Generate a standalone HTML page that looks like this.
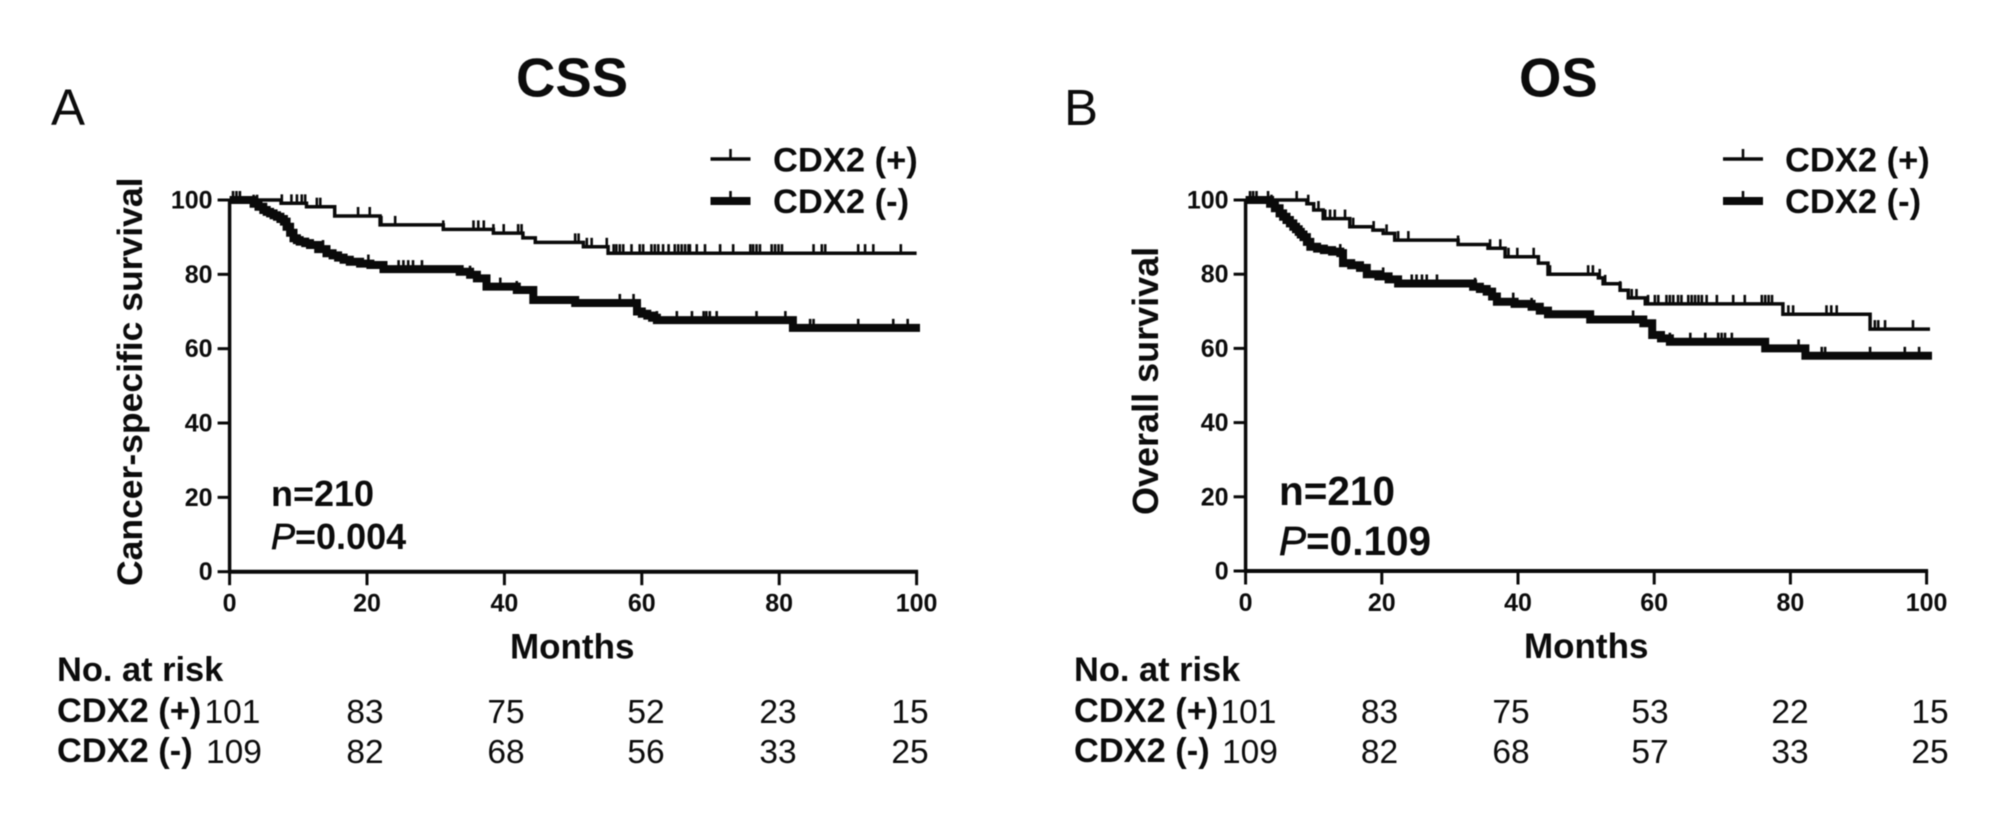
<!DOCTYPE html>
<html lang="en">
<head>
<meta charset="utf-8">
<title>CDX2 Kaplan-Meier survival curves</title>
<style>
html,body{margin:0;padding:0;background:#fff;}
svg{display:block;filter:blur(0.5px);}
text{font-family:"Liberation Sans",Arial,sans-serif;fill:#0c0c0c;}
.b{font-weight:700;}
</style>
</head>
<body>
<svg id="figure" width="2008" height="827" viewBox="0 0 2008 827" xmlns="http://www.w3.org/2000/svg">
  <rect width="2008" height="827" fill="#fff"/>
  <text x="51" y="125" font-size="51">A</text>
  <text x="1064" y="125" font-size="51">B</text>
  <text class="b" x="516" y="96.5" font-size="54.5">CSS</text>
  <text class="b" x="1519" y="96.5" font-size="54.5">OS</text>
</svg>
<script>
// Axis ticks
const xTickLabels = [0, 20, 40, 60, 80, 100];
const yTickLabels = [0, 20, 40, 60, 80, 100];

// Panel A (CSS): CDX2 (+)
const cssPosTimes = [7.5, 11.2, 15.3, 21.9, 31.1, 38.4, 42.7, 44.5, 51.5, 55.1];
const cssPosSurvival = [99.1, 98.2, 95.7, 93.3, 92.1, 91.1, 89.8, 88.6, 87.4, 85.7];
const cssPosCensored = [7.6, 9, 9.8, 10.5, 11, 12.7, 13.2, 18.7, 20.4, 22.1, 24.1, 31.1, 35.5, 36.2, 37, 38.4, 39.9, 42, 42.5, 50.3, 50.8, 52, 52.7, 54.9, 55.9, 56.3, 56.8, 57.3, 58.5, 59.7, 60.2, 61.4, 61.9, 62.4, 63.1, 63.9, 64.8, 65.3, 65.8, 66.3, 66.8, 67, 68, 69.2, 71.4, 73.3, 75.8, 76.2, 76.7, 77.2, 78.9, 79.4, 79.9, 80.4, 85, 86.2, 86.7, 91.5, 92.5, 93.7, 97.7];

// Panel A (CSS): CDX2 (-)
const cssNegTimes = [3.5, 4.2, 4.9, 5.4, 5.9, 6.4, 6.9, 7.4, 7.9, 8.3, 8.8, 9.3, 9.8, 10.2, 11, 11.7, 12.9, 14.1, 15, 15.8, 16.6, 17.5, 19, 20.5, 22.4, 33.5, 35, 36, 37.4, 41.8, 44.2, 50.3, 59.3, 60, 60.8, 61.5, 62.2, 82];
const cssNegSurvival = [99, 98.2, 97.3, 96.8, 96.4, 95.9, 95.5, 94.9, 94.2, 92.8, 91.2, 89.7, 89.2, 88.8, 88.4, 87.9, 86.8, 85.7, 85.1, 84.5, 83.9, 83.4, 82.9, 82.5, 81.4, 80.7, 79.9, 78.9, 76.7, 75.8, 73.1, 72.3, 70, 69.4, 68.9, 68.3, 67.7, 65.6];
const cssNegCensored = [0.5, 1, 1.5, 3.5, 4, 13.6, 20.2, 24.6, 25.3, 26, 26.7, 28, 35, 39.4, 41.8, 56.8, 58.8, 59.3, 59.7, 62.2, 65.1, 67.3, 69, 69.4, 69.9, 70.9, 76.7, 80.9, 84.5, 85, 91.5, 96.6, 98.7];

// Panel B (OS): CDX2 (+)
const osPosTimes = [7.5, 9, 10, 11.4, 15.3, 18.7, 20.2, 21.9, 31.2, 35.6, 38.1, 43, 44.4, 51.8, 52.5, 55, 56.2, 58.7, 78.9, 91.7];
const osPosSurvival = [100, 99, 97.3, 95, 92.8, 91.9, 91, 89.2, 88, 87, 84.7, 83, 80, 79, 77.4, 75.7, 73.6, 72, 69.2, 65.2];
const osPosCensored = [7.5, 9.2, 10.7, 11.7, 12.4, 13.1, 14.6, 15.8, 18.8, 20.7, 22.4, 23.9, 31.2, 35.9, 37.4, 38.6, 39.9, 42.3, 44.7, 50.3, 51, 52, 52.8, 55, 56.7, 57.4, 59.1, 60.1, 60.6, 61.8, 62.3, 62.8, 63.5, 64, 65, 65.5, 66, 66.5, 67, 67.7, 69.2, 71.6, 73.3, 75.8, 76.3, 76.8, 77.3, 79.7, 80.4, 85.3, 86, 86.8, 92.4, 92.9, 93.9, 98];

// Panel B (OS): CDX2 (-)
const osNegTimes = [3.6, 4.3, 5, 5.5, 6, 6.5, 7, 7.4, 7.8, 8.1, 8.5, 9, 9.5, 10.5, 11.5, 12.7, 13.9, 14.3, 15.5, 16.8, 17.8, 19.5, 21, 22.4, 33.4, 34.4, 35.4, 36.2, 36.9, 39.5, 42, 43.2, 44.4, 50.6, 58.4, 59.7, 61, 62.3, 76.3, 82.2];
const osNegSurvival = [99, 97.8, 96.4, 95.5, 94.6, 93.7, 92.8, 92.1, 91.4, 90.7, 90, 88.7, 87.4, 86.9, 86.5, 86.1, 85.7, 83, 82.4, 81.7, 80, 79.4, 78.6, 77.5, 76.6, 76, 75.3, 74, 72.6, 72, 71.2, 70.2, 69.2, 67.8, 66.8, 63.6, 62.7, 61.8, 60, 58];
const osNegCensored = [0.65, 1.1, 1.6, 3.3, 3.8, 13.9, 20.2, 24.4, 25.1, 25.9, 26.6, 28.1, 33.7, 39.3, 42, 56.9, 62.3, 65.3, 67.5, 69.4, 69.9, 70.4, 71.4, 81.2, 84.6, 85.1, 91.7, 96.8, 98.9];

// Numbers at risk
const cssRiskPos = [101, 83, 75, 52, 23, 15];
const cssRiskNeg = [109, 82, 68, 56, 33, 25];
const osRiskPos = [101, 83, 75, 53, 22, 15];
const osRiskNeg = [109, 82, 68, 57, 33, 25];

const SVG_NS = 'http://www.w3.org/2000/svg';
const root = document.getElementById('figure');

function mk(tag, attrs, parent) {
  const el = document.createElementNS(SVG_NS, tag);
  for (const k in attrs) el.setAttribute(k, attrs[k]);
  (parent || root).appendChild(el);
  return el;
}

function survivalAt(times, values, m) {
  let s = 100;
  for (let i = 0; i < times.length; i++) {
    if (times[i] <= m) s = values[i];
  }
  return s;
}

function stepPath(times, values, xs, ys, endMonth) {
  let d = 'M' + xs(0) + ' ' + ys(100);
  for (let i = 0; i < times.length; i++) {
    d += 'H' + xs(times[i]).toFixed(1);
    d += 'V' + ys(values[i]).toFixed(1);
  }
  d += 'H' + xs(endMonth).toFixed(1);
  return d;
}

function drawSeries(panel, key, times, values, censored, xs, ys, width, endMonth) {
  const g = mk('g', {}, panel);
  
  

  const line = mk('path', {
    d: stepPath(times, values, xs, ys, endMonth),
    fill: 'none', stroke: '#0a0a0a', 'stroke-width': width, 'stroke-linejoin': 'miter'
  }, g);
  
  

  censored.forEach(function (m) {
    const y = ys(survivalAt(times, values, m));
    const tick = mk('line', {
      x1: xs(m), x2: xs(m), y1: y, y2: y - 9,
      stroke: '#0a0a0a', 'stroke-width': 2.6
    }, g);
    
    
  });
}

function drawAxes(panel, key, xs, ys, fontSize) {
  const xAxis = mk('line', {
    x1: xs(0) - 1.5, x2: xs(100) + 1.5, y1: ys(0), y2: ys(0),
    stroke: '#0a0a0a', 'stroke-width': 4
  }, panel);
  
  

  const yAxis = mk('line', {
    x1: xs(0), x2: xs(0), y1: ys(0), y2: ys(100) - 1,
    stroke: '#0a0a0a', 'stroke-width': 3.5
  }, panel);
  
  

  xTickLabels.forEach(function (v) {
    const t = mk('line', {
      x1: xs(v), x2: xs(v), y1: ys(0), y2: ys(0) + 13.5,
      stroke: '#0a0a0a', 'stroke-width': 3
    }, panel);
    
    

    const l = mk('text', {
      x: xs(v), y: ys(0) + 40, 'font-size': fontSize, 'text-anchor': 'middle', class: 'b'
    }, panel);
    l.textContent = v;
    
    
  });

  yTickLabels.forEach(function (v) {
    const t = mk('line', {
      x1: xs(0) - 12, x2: xs(0), y1: ys(v), y2: ys(v),
      stroke: '#0a0a0a', 'stroke-width': 3
    }, panel);
    
    

    const l = mk('text', {
      x: xs(0) - 17, y: ys(v) + 8.5, 'font-size': fontSize, 'text-anchor': 'end', class: 'b'
    }, panel);
    l.textContent = v;
    
    
  });
}

function drawLegend(panel, key, lineX, textX) {
  const rows = [
    { label: 'CDX2 (+)', y: 159, base: 171.5, width: 3.5, name: 'positive' },
    { label: 'CDX2 (-)', y: 201, base: 213, width: 8, name: 'negative' }
  ];
  rows.forEach(function (r) {
    const g = mk('g', {}, panel);
    
    

    const ln = mk('line', { x1: lineX, x2: lineX + 40, y1: r.y, y2: r.y, stroke: '#0a0a0a', 'stroke-width': r.width }, g);
    
    

    const tk = mk('line', { x1: lineX + 20, x2: lineX + 20, y1: r.y, y2: r.y - 10, stroke: '#0a0a0a', 'stroke-width': 2.6 }, g);
    
    

    const tx = mk('text', { x: textX, y: r.base, 'font-size': 34.5, class: 'b' }, g);
    tx.textContent = r.label;
    
    
  });
}

function drawRisk(panel, key, layout, riskPos, riskNeg) {
  const head = mk('text', { x: layout.left, y: 681, 'font-size': 34.4, class: 'b' }, panel);
  head.textContent = 'No. at risk';
  
  

  const rowPos = mk('text', { x: layout.left, y: 722, 'font-size': 34.4, class: 'b' }, panel);
  rowPos.textContent = 'CDX2 (+)';
  
  

  const rowNeg = mk('text', { x: layout.left, y: 762, 'font-size': 34.4, class: 'b' }, panel);
  rowNeg.textContent = 'CDX2 (-)';
  
  

  layout.centers.forEach(function (cx, i) {
    const a = mk('text', { x: i === 0 ? layout.firstPos : cx, y: 723, 'font-size': 33.5, 'text-anchor': 'middle' }, panel);
    a.textContent = riskPos[i];
    
    

    const b = mk('text', { x: i === 0 ? layout.firstNeg : cx, y: 763, 'font-size': 33.5, 'text-anchor': 'middle' }, panel);
    b.textContent = riskNeg[i];
    
    
  });
}

function drawCaption(panel, key, x, nBase, pBase, size, pText) {
  const n = mk('text', { x: x, y: nBase, 'font-size': size, class: 'b' }, panel);
  n.textContent = 'n=210';
  
  

  const p = mk('text', { x: x, y: pBase, 'font-size': size, class: 'b' }, panel);
  
  
  const it = mk('tspan', { 'font-style': 'italic', 'font-weight': 400, stroke: '#0c0c0c', 'stroke-width': 0.7 }, p);
  it.textContent = 'P';
  const rest = mk('tspan', {}, p);
  rest.textContent = pText;
}

// ---------- Panel A ----------
const panelA = mk('g', {});


const xA = function (m) { return 229.6 + 6.87 * m; };
const yA = function (s) { return 571.7 - 3.717 * s; };
drawSeries(panelA, 'css-cdx2-positive', cssPosTimes, cssPosSurvival, cssPosCensored, xA, yA, 3.5, 100);
drawSeries(panelA, 'css-cdx2-negative', cssNegTimes, cssNegSurvival, cssNegCensored, xA, yA, 8, 100.5);
drawAxes(panelA, 'css', xA, yA, 25);
drawLegend(panelA, 'css', 710.5, 773);
drawCaption(panelA, 'css', 271, 506, 549, 36, '=0.004');
drawRisk(panelA, 'css', { left: 57, centers: [0, 365, 506, 646, 778, 910], firstPos: 232.5, firstNeg: 234 }, cssRiskPos, cssRiskNeg);

const yTitleA = mk('text', { transform: 'translate(142 586) rotate(-90)', 'font-size': 35.5, class: 'b' }, panelA);
yTitleA.textContent = 'Cancer-specific survival';



const xTitleA = mk('text', { x: 510, y: 658.5, 'font-size': 35, class: 'b' }, panelA);
xTitleA.textContent = 'Months';



// ---------- Panel B ----------
const panelB = mk('g', {});


const xB = function (m) { return 1245.6 + 6.81 * m; };
const yB = function (s) { return 571 - 3.71 * s; };
drawSeries(panelB, 'os-cdx2-positive', osPosTimes, osPosSurvival, osPosCensored, xB, yB, 3.5, 100.5);
drawSeries(panelB, 'os-cdx2-negative', osNegTimes, osNegSurvival, osNegCensored, xB, yB, 8, 100.8);
drawAxes(panelB, 'os', xB, yB, 25);
drawLegend(panelB, 'os', 1723, 1785);
drawCaption(panelB, 'os', 1279, 505, 555, 40.5, '=0.109');
drawRisk(panelB, 'os', { left: 1074, centers: [0, 1379.5, 1511, 1650, 1790, 1930], firstPos: 1248.5, firstNeg: 1250 }, osRiskPos, osRiskNeg);

const yTitleB = mk('text', { transform: 'translate(1158 515) rotate(-90)', 'font-size': 36, class: 'b' }, panelB);
yTitleB.textContent = 'Overall survival';



const xTitleB = mk('text', { x: 1524, y: 658, 'font-size': 35, class: 'b' }, panelB);
xTitleB.textContent = 'Months';


</script>
</body>
</html>
